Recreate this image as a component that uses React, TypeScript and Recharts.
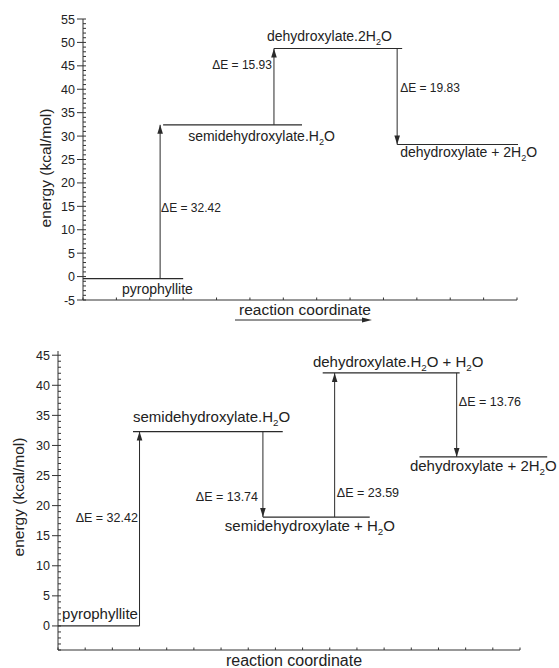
import React from 'react';
import { LineChart, Line, XAxis, YAxis, ReferenceLine, ReferenceDot } from 'recharts';

// ---------- data: top diagram ----------
const TOP_X_TICKS = [0, 1, 2, 3, 4, 5, 6, 7, 8, 9, 10, 11, 12, 13];
const TOP_Y_TICKS = [
  -5, -4, -3, -2, -1, 0, 1, 2, 3, 4, 5, 6, 7, 8, 9, 10, 11, 12, 13, 14, 15, 16, 17, 18, 19, 20,
  21, 22, 23, 24, 25, 26, 27, 28, 29, 30, 31, 32, 33, 34, 35, 36, 37, 38, 39, 40, 41, 42, 43, 44,
  45, 46, 47, 48, 49, 50, 51, 52, 53, 54, 55,
];
const TOP_LEVELS = [
  { x1: 0, x2: 3.0, e: -0.45 },
  { x1: 2.4, x2: 6.56, e: 32.4 },
  { x1: 5.72, x2: 9.56, e: 48.7 },
  { x1: 9.41, x2: 13.03, e: 28.2 },
];
const TOP_ARROWS = [
  { x: 2.31, from: -0.45, to: 32.4 },
  { x: 5.72, from: 32.4, to: 48.7 },
  { x: 9.41, from: 48.7, to: 28.2 },
];
const TOP_STATE_LABELS = [
  { text: 'pyrophyllite', x: 1.17, y: -3.72, anchor: 'start' },
  { text: 'semidehydroxylate.H_2O', x: 3.15, y: 28.96, anchor: 'start' },
  { text: 'dehydroxylate.2H_2O', x: 5.51, y: 50.31, anchor: 'start' },
  { text: 'dehydroxylate + 2H_2O', x: 9.5, y: 25.54, anchor: 'start' },
];
const TOP_DE_LABELS = [
  { text: 'ΔE = 15.93', x: 5.66, y: 44.33, anchor: 'end' },
  { text: 'ΔE = 19.83', x: 9.5, y: 39.31, anchor: 'start' },
  { text: 'ΔE = 32.42', x: 2.34, y: 13.69, anchor: 'start' },
];

// ---------- data: bottom diagram ----------
const BOT_X_TICKS = [0, 1, 2, 3, 4, 5, 6, 7, 8, 9, 10, 11, 12, 13, 14, 15, 16, 17];
const BOT_Y_TICKS = [
  -4, -3, -2, -1, 0, 1, 2, 3, 4, 5, 6, 7, 8, 9, 10, 11, 12, 13, 14, 15, 16, 17, 18, 19, 20, 21,
  22, 23, 24, 25, 26, 27, 28, 29, 30, 31, 32, 33, 34, 35, 36, 37, 38, 39, 40, 41, 42, 43, 44, 45,
];
const BOT_LEVELS = [
  { x1: 0, x2: 3.0, e: 0 },
  { x1: 2.76, x2: 8.27, e: 32.3 },
  { x1: 7.54, x2: 11.47, e: 18.1 },
  { x1: 9.74, x2: 14.78, e: 42.05 },
  { x1: 13.3, x2: 18.0, e: 28.1 },
];
const BOT_ARROWS = [
  { x: 3.0, from: 0, to: 32.3 },
  { x: 7.54, from: 32.3, to: 18.1 },
  { x: 10.18, from: 18.1, to: 42.05 },
  { x: 14.67, from: 42.05, to: 28.1 },
];
const BOT_STATE_LABELS = [
  { text: 'pyrophyllite', x: 0.15, y: 1.16, anchor: 'start' },
  { text: 'semidehydroxylate.H_2O', x: 2.76, y: 33.91, anchor: 'start' },
  { text: 'semidehydroxylate + H_2O', x: 6.14, y: 15.79, anchor: 'start' },
  { text: 'dehydroxylate.H_2O + H_2O', x: 9.38, y: 43.05, anchor: 'start' },
  { text: 'dehydroxylate + 2H_2O', x: 12.95, y: 25.76, anchor: 'start' },
];
const BOT_DE_LABELS = [
  { text: 'ΔE = 32.42', x: 2.94, y: 17.29, anchor: 'end' },
  { text: 'ΔE = 13.74', x: 7.36, y: 20.78, anchor: 'end' },
  { text: 'ΔE = 23.59', x: 10.26, y: 21.44, anchor: 'start' },
  { text: 'ΔE = 13.76', x: 14.75, y: 36.57, anchor: 'start' },
];

// ---------- styling ----------
const FONT = '"Liberation Sans", Arial, Helvetica, sans-serif';
const TEXT = '#222';
const AXIS = '#333';
const LINE = '#2a2a2a';

function richText(text: string, fontSize: number) {
  const parts: { t: string; sub: boolean }[] = [];
  let buf = '';
  for (let i = 0; i < text.length; i++) {
    if (text[i] === '_' && i + 1 < text.length) {
      if (buf) parts.push({ t: buf, sub: false });
      buf = '';
      parts.push({ t: text[i + 1], sub: true });
      i++;
    } else buf += text[i];
  }
  if (buf) parts.push({ t: buf, sub: false });
  const shift = fontSize * 0.28;
  let shifted = false;
  return parts.map((p, i) => {
    let dy: number | undefined;
    if (p.sub && !shifted) {
      dy = shift;
      shifted = true;
    } else if (!p.sub && shifted) {
      dy = -shift;
      shifted = false;
    }
    return (
      <tspan key={i} dy={dy} fontSize={p.sub ? fontSize * 0.65 : fontSize}>
        {p.t}
      </tspan>
    );
  });
}

function makeLabel(text: string, anchor: string, fontSize: number) {
  return (props: any) => {
    const vb = props.viewBox || {};
    const cx = (vb.x || 0) + (vb.width || 0) / 2;
    const cy = (vb.y || 0) + (vb.height || 0) / 2;
    return (
      <text x={cx} y={cy} textAnchor={anchor as any} fontFamily={FONT} fontSize={fontSize} fill={TEXT}>
        {richText(text, fontSize)}
      </text>
    );
  };
}

function makeArrowDot(up: boolean) {
  return (p: any) => {
    const { cx, cy, index } = p;
    if (index !== 1 || typeof cx !== 'number' || typeof cy !== 'number') return <g key={'d' + index} />;
    const dir = up ? -1 : 1;
    const head = 9;
    const hw = 2.8;
    return (
      <polygon
        key={'d' + index}
        points={`${cx},${cy} ${cx - hw},${cy - dir * head} ${cx + hw},${cy - dir * head}`}
        fill={LINE}
        stroke="none"
      />
    );
  };
}

function makeYTick(majorStep: number, minLabel: number) {
  return (props: any) => {
    const { x, y, payload } = props;
    const v = payload.value;
    const major = v % majorStep === 0;
    return (
      <g>
        {major ? (
          <line x1={x - 6} x2={x + 3} y1={y} y2={y} stroke={AXIS} strokeWidth={1} />
        ) : (
          <line x1={x} x2={x + 3} y1={y} y2={y} stroke={AXIS} strokeWidth={1} />
        )}
        {major && v >= minLabel && (
          <text x={x - 8} y={y} dy={4.5} textAnchor="end" fontFamily={FONT} fontSize={12.5} fill={TEXT}>
            {v}
          </text>
        )}
      </g>
    );
  };
}

const XTick = (props: any) => {
  const { x, y } = props;
  return <line x1={x} x2={x} y1={y} y2={y - 2.5} stroke={AXIS} strokeWidth={1} />;
};

function arrowData(a: { x: number; from: number; to: number }) {
  return [
    { x: a.x, e: a.from },
    { x: a.x, e: a.to },
  ];
}

function TopChart() {
  return (
    <LineChart width={559} height={330} margin={{ top: 19, right: 42, bottom: 0, left: 0 }}>
      <XAxis
        type="number"
        dataKey="x"
        domain={[0, 13]}
        allowDataOverflow
        ticks={TOP_X_TICKS}
        interval={0}
        tickLine={false}
        tickSize={0}
        tickMargin={0}
        height={30}
        stroke={AXIS}
        tick={XTick}
        label={(props: any) => {
          const vb = props.viewBox;
          const cx = vb.x + vb.width / 2 + 5;
          const by = vb.y + 15;
          return (
            <g>
              <text x={cx} y={by} textAnchor="middle" fontFamily={FONT} fontSize={15.5} fill={TEXT}>
                reaction coordinate
              </text>
              <line x1={cx - 70} x2={cx + 58} y1={by + 5} y2={by + 5} stroke={LINE} strokeWidth={1} />
              <polygon points={`${cx + 67},${by + 5} ${cx + 57},${by + 2.5} ${cx + 57},${by + 7.5}`} fill={LINE} />
            </g>
          );
        }}
      />
      <YAxis
        type="number"
        domain={[-5, 55]}
        allowDataOverflow
        ticks={TOP_Y_TICKS}
        interval={0}
        tickLine={false}
        tickSize={0}
        tickMargin={0}
        width={83}
        stroke={AXIS}
        tick={makeYTick(5, -5)}
        label={() => (
          <text
            x={45}
            y={168}
            transform="rotate(-90 45 168)"
            textAnchor="middle"
            dominantBaseline="central"
            fontFamily={FONT}
            fontSize={15.5}
            fill={TEXT}
          >
            energy (kcal/mol)
          </text>
        )}
      />
      {TOP_LEVELS.map((l, i) => (
        <ReferenceLine
          key={'tl' + i}
          segment={[{ x: l.x1, y: l.e }, { x: l.x2, y: l.e }]}
          stroke={LINE}
          strokeWidth={1.2}
          ifOverflow="visible"
        />
      ))}
      {TOP_ARROWS.map((a, i) => (
        <Line
          key={'ta' + i}
          data={arrowData(a)}
          dataKey="e"
          type="linear"
          stroke={LINE}
          strokeWidth={1}
          dot={makeArrowDot(a.to > a.from)}
          activeDot={false}
          isAnimationActive={false}
        />
      ))}
      {TOP_STATE_LABELS.map((l, i) => (
        <ReferenceDot
          key={'ts' + i}
          x={l.x}
          y={l.y}
          r={0}
          fill="none"
          stroke="none"
          ifOverflow="visible"
          label={makeLabel(l.text, l.anchor, 14)}
        />
      ))}
      {TOP_DE_LABELS.map((l, i) => (
        <ReferenceDot
          key={'td' + i}
          x={l.x}
          y={l.y}
          r={0}
          fill="none"
          stroke="none"
          ifOverflow="visible"
          label={makeLabel(l.text, l.anchor, 12)}
        />
      ))}
    </LineChart>
  );
}

function BottomChart() {
  return (
    <LineChart width={559} height={338} margin={{ top: 21, right: 39, bottom: 0, left: 0 }}>
      <XAxis
        type="number"
        dataKey="x"
        domain={[0, 17]}
        allowDataOverflow
        ticks={BOT_X_TICKS}
        interval={0}
        tickLine={false}
        tickSize={0}
        tickMargin={0}
        height={18}
        stroke={AXIS}
        tick={XTick}
        label={(props: any) => {
          const vb = props.viewBox;
          const cx = vb.x + vb.width / 2 + 5;
          const by = vb.y + 15.5;
          return (
            <text x={cx} y={by} textAnchor="middle" fontFamily={FONT} fontSize={16} fill={TEXT}>
              reaction coordinate
            </text>
          );
        }}
      />
      <YAxis
        type="number"
        domain={[-4, 45.7]}
        allowDataOverflow
        ticks={BOT_Y_TICKS}
        interval={0}
        tickLine={false}
        tickSize={0}
        tickMargin={0}
        width={58}
        stroke={AXIS}
        tick={makeYTick(5, 0)}
        label={() => (
          <text
            x={18}
            y={167}
            transform="rotate(-90 18 167)"
            textAnchor="middle"
            dominantBaseline="central"
            fontFamily={FONT}
            fontSize={15.5}
            fill={TEXT}
          >
            energy (kcal/mol)
          </text>
        )}
      />
      {BOT_LEVELS.map((l, i) => (
        <ReferenceLine
          key={'bl' + i}
          segment={[{ x: l.x1, y: l.e }, { x: l.x2, y: l.e }]}
          stroke={LINE}
          strokeWidth={1.2}
          ifOverflow="visible"
        />
      ))}
      {BOT_ARROWS.map((a, i) => (
        <Line
          key={'ba' + i}
          data={arrowData(a)}
          dataKey="e"
          type="linear"
          stroke={LINE}
          strokeWidth={1}
          dot={makeArrowDot(a.to > a.from)}
          activeDot={false}
          isAnimationActive={false}
        />
      ))}
      {BOT_STATE_LABELS.map((l, i) => (
        <ReferenceDot
          key={'bs' + i}
          x={l.x}
          y={l.y}
          r={0}
          fill="none"
          stroke="none"
          ifOverflow="visible"
          label={makeLabel(l.text, l.anchor, 15)}
        />
      ))}
      {BOT_DE_LABELS.map((l, i) => (
        <ReferenceDot
          key={'bd' + i}
          x={l.x}
          y={l.y}
          r={0}
          fill="none"
          stroke="none"
          ifOverflow="visible"
          label={makeLabel(l.text, l.anchor, 12.5)}
        />
      ))}
    </LineChart>
  );
}

export default function App() {
  return (
    <div style={{ position: 'absolute', left: 0, top: 0, width: 559, height: 668, background: '#fff' }}>
      <div style={{ position: 'absolute', left: 0, top: 0 }}>
        <TopChart />
      </div>
      <div style={{ position: 'absolute', left: 0, top: 330 }}>
        <BottomChart />
      </div>
    </div>
  );
}
